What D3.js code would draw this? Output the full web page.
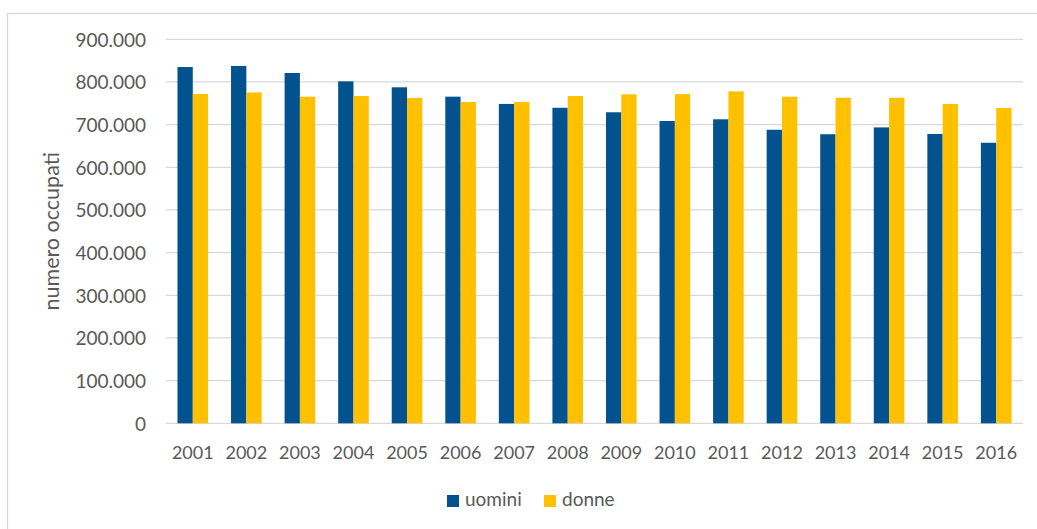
<!DOCTYPE html>
<html>
<head>
  <meta charset="utf-8">
  <style>
    body { margin: 0; background: #fff; }
    svg text { font-family: Lato, "Open Sans", sans-serif; fill: #595959; }
  </style>
  <title>Numero occupati per anno</title>
</head>
<body>
  <script src="https://cdn.jsdelivr.net/npm/d3@7/dist/d3.min.js"></script>
  <script>
    // data
    var years = ["2001", "2002", "2003", "2004", "2005", "2006", "2007", "2008",
                 "2009", "2010", "2011", "2012", "2013", "2014", "2015", "2016"];
    var uomini = [835000, 837500, 821000, 801500, 787500, 765500, 748500, 739500,
                  729000, 708500, 712500, 688000, 677500, 693500, 678000, 657500];
    var donne = [772000, 775500, 765500, 767000, 762500, 753000, 753000, 767000,
                 771000, 771500, 778000, 765500, 763000, 763000, 748500, 739000];
    var seriesNames = ["uomini", "donne"];
    var seriesColors = ["#02528F", "#FFC000"];
    var yTicks = [0, 100000, 200000, 300000, 400000, 500000, 600000, 700000, 800000, 900000];

    var width = 1037;
    var height = 529;
    var plotLeft = 166, plotRight = 1023, plotTop = 39.3, plotBottom = 423.3;

    var svg = d3.select("body").append("svg")
      .attr("width", width)
      .attr("height", height);

    // chart frame (left and top visible only)
    svg.append("path")
      .attr("d", "M7.5," + height + "V13.5H" + width)
      .attr("fill", "none")
      .attr("stroke", "#d9d9d9")
      .attr("stroke-width", 1.3);

    // Excel style: gap width 150% -> each category = 2 bars + 1.5 bars gap
    var x0 = d3.scaleBand().domain(years).range([plotLeft, plotRight]);
    var step = x0.step();
    var barW = step / 3.5;
    var x1 = d3.scaleBand().domain(seriesNames).range([0, barW * 2]);

    var y = d3.scaleLinear().domain([0, 900000]).range([plotBottom, plotTop]);

    var fmt = function(d) { return d === 0 ? "0" : d3.format(",")(d).replace(/,/g, "."); };

    // gridlines
    svg.append("g").selectAll("line")
      .data(yTicks)
      .enter().append("line")
      .attr("x1", plotLeft)
      .attr("x2", plotRight)
      .attr("y1", function(d) { return y(d); })
      .attr("y2", function(d) { return y(d); })
      .attr("stroke", "#d9d9d9")
      .attr("stroke-width", 1.3);

    // y axis labels
    var yAxis = d3.axisLeft(y).tickValues(yTicks).tickFormat(fmt).tickSize(0).tickPadding(0);
    var gy = svg.append("g")
      .attr("transform", "translate(146,0)")
      .call(yAxis);
    gy.select(".domain").remove();
    gy.selectAll("text")
      .attr("font-size", "19px")
      .attr("font-family", null)
      .attr("fill", "#595959")
      .attr("dy", "0.36em");

    // bars
    var rows = years.map(function(yr, i) { return { year: yr, values: [uomini[i], donne[i]] }; });
    var groups = svg.append("g").selectAll("g")
      .data(rows)
      .enter().append("g")
      .attr("transform", function(d) { return "translate(" + (x0(d.year) + (step - 2 * barW) / 2) + ",0)"; });

    groups.selectAll("rect")
      .data(function(d) { return d.values.map(function(v, j) { return { name: seriesNames[j], value: v, color: seriesColors[j] }; }); })
      .enter().append("rect")
      .attr("x", function(d) { return x1(d.name); })
      .attr("y", function(d) { return y(d.value); })
      .attr("width", x1.bandwidth())
      .attr("height", function(d) { return plotBottom - y(d.value); })
      .attr("fill", function(d) { return d.color; });

    // x axis labels
    var xAxis = d3.axisBottom(x0).tickSize(0).tickPadding(0);
    var gx = svg.append("g")
      .attr("transform", "translate(0," + 459 + ")")
      .call(xAxis);
    gx.select(".domain").remove();
    gx.selectAll("text")
      .attr("font-size", "18px")
      .attr("font-family", null)
      .attr("fill", "#595959")
      .attr("dy", 0);

    // y axis title
    svg.append("text")
      .attr("transform", "translate(59," + ((plotTop + plotBottom) / 2) + ") rotate(-90)")
      .attr("text-anchor", "middle")
      .attr("font-size", "21.5px")
      .text("numero occupati");

    // legend
    var legendX = [447, 544];
    var legend = svg.append("g").selectAll("g")
      .data(seriesNames)
      .enter().append("g")
      .attr("transform", function(d, i) { return "translate(" + legendX[i] + ",495)"; });
    legend.append("rect")
      .attr("width", 12)
      .attr("height", 12)
      .attr("fill", function(d, i) { return seriesColors[i]; });
    legend.append("text")
      .attr("x", 18)
      .attr("y", 11)
      .attr("font-size", "19px")
      .text(function(d) { return d; });
  </script>
</body>
</html>
